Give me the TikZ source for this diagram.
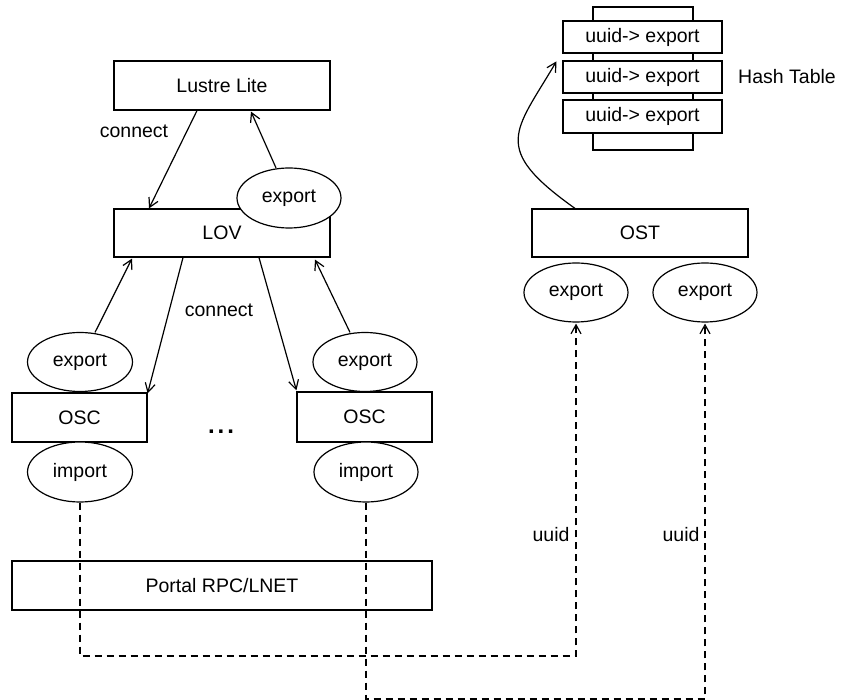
\documentclass[tikz,border=0pt]{standalone}
\usepackage{fontspec}
\setmainfont{Liberation Sans}
\usetikzlibrary{arrows.meta,shapes.geometric}
\begin{document}
\begin{tikzpicture}[x=1pt,y=-1pt,
  every node/.style={font=\fontsize{19.5}{23}\selectfont, inner sep=0pt},
  box/.style={draw, line width=1.2pt, fill=white, rectangle},
  oval/.style={draw, line width=1.2pt, fill=white, ellipse, minimum width=104pt, minimum height=60pt},
  conn/.style={line width=1.2pt, -{Straight Barb[length=9pt,width=10pt,line width=1.2pt]}},
  dconn/.style={conn, dash pattern=on 7pt off 5pt},
  lbl/.style={}
]
\useasboundingbox (0,0) rectangle (841,700);

% Hash table
\node[box, minimum width=100pt, minimum height=143pt] (spine) at (643,78.5) {};
\node[box, minimum width=159pt, minimum height=32pt] (e1) at (642.5,37) {uuid-> export};
\node[box, minimum width=159pt, minimum height=32pt] (e2) at (642.5,77) {uuid-> export};
\node[box, minimum width=159pt, minimum height=33pt] (e3) at (642.5,116.5) {uuid-> export};
\node[lbl] (ht) at (787,77) {Hash Table};

% left stack
\node[box, minimum width=216pt, minimum height=49pt] (ll) at (222,85.5) {Lustre Lite};
\node[box, minimum width=216pt, minimum height=48pt] (lov) at (222,233) {LOV};
\node[oval] (llex) at (289,198) {export};
\node[lbl] (c1) at (134,131) {connect};
\node[lbl] (c2) at (219,310) {connect};

\node[box, minimum width=135pt, minimum height=49pt] (losc) at (79.5,417.5) {OSC};
\node[box, minimum width=135pt, minimum height=50pt] (rosc) at (364.5,417) {OSC};
\node[oval, minimum width=105pt, minimum height=59pt] (lex) at (80,362) {export};
\node[oval, minimum width=105pt] (limp) at (80,472) {import};
\node[oval, minimum width=104pt, minimum height=59pt] (rex) at (365,362) {export};
\node[oval, minimum width=104pt] (rimp) at (366,472) {import};
\node[font=\fontsize{24}{28}\selectfont\bfseries] (dots) at (221,432) {.\hspace{3pt}.\hspace{3pt}.};

\node[box, minimum width=420pt, minimum height=49pt] (portal) at (222,585.5) {Portal RPC/LNET};

% OST
\node[box, minimum width=216pt, minimum height=48pt] (ost) at (640,233) {OST};
\node[oval, minimum height=59pt] (oexl) at (576,292.5) {export};
\node[oval, minimum height=59pt] (oexr) at (705,292.5) {export};

\node[lbl] (u1) at (551,535) {uuid};
\node[lbl] (u2) at (681,535) {uuid};

% solid connectors
\draw[conn] ([xshift=-25pt]ll.south) -- ([xshift=-73pt]lov.north);
\draw[conn] ([xshift=-13pt,yshift=-0.5pt]llex.north) -- ([xshift=29pt,yshift=-1pt]ll.south);
\draw[conn] ([xshift=15pt,yshift=-0.5pt]lex.north) -- ([xshift=-90pt,yshift=-1pt]lov.south);
\draw[conn] ([xshift=-39pt]lov.south) -- ([yshift=-1pt]losc.north east);
\draw[conn] ([xshift=37pt]lov.south) -- ([yshift=1pt]rosc.north west);
\draw[conn] ([xshift=-15pt,yshift=-0.5pt]rex.north) -- ([xshift=93pt,yshift=-2pt]lov.south);
\draw[conn] ([xshift=-65pt]ost.north) .. controls (490,148) and (515,132) .. ([xshift=-6pt,yshift=-1pt]e2.north west);

% dashed connectors
\coordinate (d1) at (0,656);
\coordinate (d2) at (0,699);
\draw[dconn] (limp.south) -- (limp.south |- d1) -| ([yshift=-1pt]oexl.south);
\draw[dconn] (rimp.south) -- (rimp.south |- d2) -| ([yshift=-1pt]oexr.south);
\end{tikzpicture}
\end{document}
